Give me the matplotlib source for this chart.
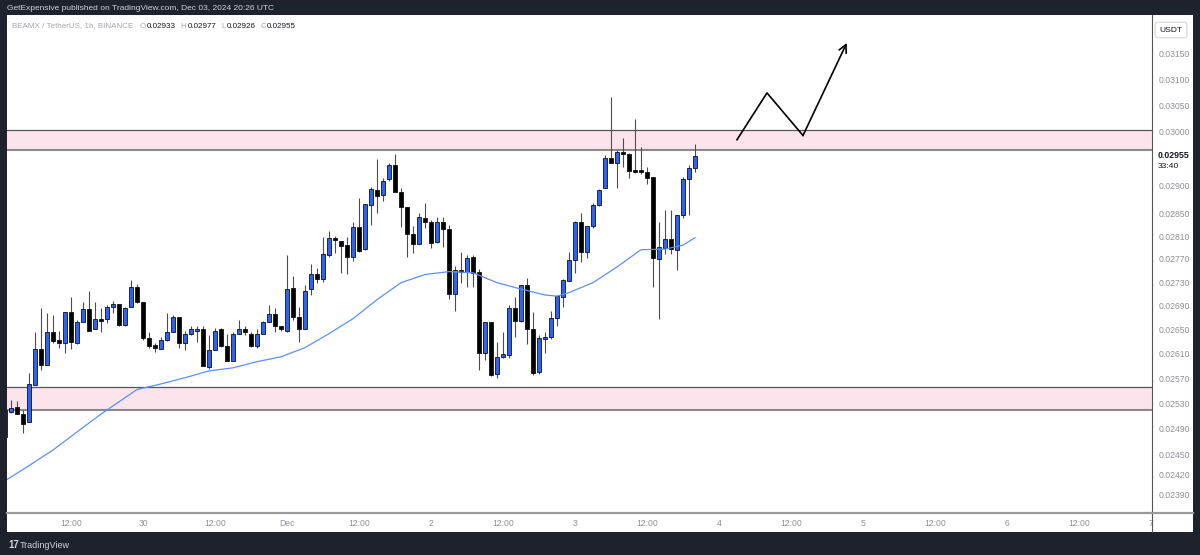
import numpy as np
import matplotlib
matplotlib.use('Agg')
import matplotlib.pyplot as plt
from matplotlib import font_manager
from matplotlib.patches import Rectangle
from matplotlib.lines import Line2D
from matplotlib.ticker import FixedLocator, FixedFormatter, NullLocator

# BEAMX/USDT 1h candles, Nov 29 01:00 .. Dec 03 20:00
opens = [0.02477, 0.02517, 0.02524, 0.02513, 0.02500, 0.02560, 0.02618, 0.02592, 0.02645, 0.02633,
         0.02628, 0.02679, 0.02628, 0.02663, 0.02684, 0.02651, 0.02668, 0.02668, 0.02688, 0.02693,
         0.02658, 0.02688, 0.02722, 0.02696, 0.02636, 0.02624, 0.02618, 0.02633, 0.02646, 0.02671,
         0.02628, 0.02643, 0.02648, 0.02651, 0.02589, 0.02616, 0.02650, 0.02623, 0.02598, 0.02643,
         0.02651, 0.02643, 0.02623, 0.02643, 0.02663, 0.02676, 0.02655, 0.02648, 0.02720, 0.02671,
         0.02651, 0.02718, 0.02744, 0.02736, 0.02777, 0.02807, 0.02802, 0.02794, 0.02774, 0.02825,
         0.02787, 0.02865, 0.02893, 0.02884, 0.02913, 0.02938, 0.02889, 0.02862, 0.02814, 0.02796,
         0.02842, 0.02835, 0.02800, 0.02835, 0.02823, 0.02710, 0.02751, 0.02748, 0.02774, 0.02748,
         0.02611, 0.02663, 0.02577, 0.02605, 0.02608, 0.02686, 0.02664, 0.02725, 0.02651, 0.02581,
         0.02635, 0.02638, 0.02669, 0.02705, 0.02732, 0.02768, 0.02834, 0.02782, 0.02828, 0.02865,
         0.02896, 0.02951, 0.02942, 0.02962, 0.02959, 0.02928, 0.02928, 0.02926, 0.02916, 0.02770,
         0.02789, 0.02805, 0.02786, 0.02848, 0.02913, 0.02933]
highs = [0.02525, 0.02535, 0.02534, 0.02520, 0.02579, 0.02645, 0.02686, 0.02678, 0.02674, 0.02648,
         0.02679, 0.02705, 0.02666, 0.02696, 0.02715, 0.02696, 0.02686, 0.02691, 0.02698, 0.02693,
         0.02688, 0.02734, 0.02727, 0.02696, 0.02645, 0.02628, 0.02638, 0.02678, 0.02674, 0.02671,
         0.02648, 0.02655, 0.02655, 0.02655, 0.02641, 0.02653, 0.02653, 0.02643, 0.02645, 0.02666,
         0.02655, 0.02646, 0.02651, 0.02664, 0.02691, 0.02686, 0.02655, 0.02777, 0.02741, 0.02688,
         0.02725, 0.02762, 0.02755, 0.02808, 0.02819, 0.02810, 0.02802, 0.02808, 0.02834, 0.02878,
         0.02867, 0.02897, 0.02949, 0.02914, 0.02942, 0.02959, 0.02896, 0.02862, 0.02828, 0.02851,
         0.02869, 0.02839, 0.02844, 0.02844, 0.02830, 0.02757, 0.02782, 0.02777, 0.02777, 0.02753,
         0.02663, 0.02663, 0.02630, 0.02645, 0.02691, 0.02705, 0.02725, 0.02737, 0.02679, 0.02641,
         0.02646, 0.02681, 0.02708, 0.02736, 0.02782, 0.02837, 0.02851, 0.02828, 0.02869, 0.02894,
         0.02957, 0.03066, 0.02966, 0.02989, 0.02960, 0.03025, 0.02971, 0.02935, 0.02916, 0.02834,
         0.02857, 0.02857, 0.02848, 0.02916, 0.02938, 0.02977]
lows = [0.02477, 0.02515, 0.02513, 0.02484, 0.02500, 0.02560, 0.02584, 0.02592, 0.02628, 0.02619,
        0.02611, 0.02618, 0.02626, 0.02663, 0.02648, 0.02650, 0.02646, 0.02661, 0.02678, 0.02656,
        0.02655, 0.02688, 0.02694, 0.02633, 0.02619, 0.02613, 0.02618, 0.02631, 0.02645, 0.02619,
        0.02616, 0.02641, 0.02630, 0.02590, 0.02585, 0.02616, 0.02621, 0.02598, 0.02598, 0.02643,
        0.02641, 0.02621, 0.02619, 0.02643, 0.02663, 0.02645, 0.02648, 0.02646, 0.02666, 0.02630,
        0.02651, 0.02708, 0.02729, 0.02730, 0.02774, 0.02780, 0.02746, 0.02744, 0.02767, 0.02782,
        0.02786, 0.02830, 0.02851, 0.02873, 0.02909, 0.02889, 0.02826, 0.02774, 0.02780, 0.02796,
        0.02825, 0.02789, 0.02798, 0.02791, 0.02701, 0.02681, 0.02729, 0.02722, 0.02722, 0.02584,
        0.02600, 0.02573, 0.02571, 0.02603, 0.02603, 0.02638, 0.02663, 0.02626, 0.02576, 0.02577,
        0.02611, 0.02635, 0.02655, 0.02688, 0.02732, 0.02746, 0.02765, 0.02772, 0.02825, 0.02863,
        0.02896, 0.02942, 0.02896, 0.02935, 0.02915, 0.02924, 0.02922, 0.02904, 0.02722, 0.02668,
        0.02779, 0.02779, 0.02750, 0.02842, 0.02848, 0.02926]
closes = [0.02520, 0.02523, 0.02513, 0.02498, 0.02560, 0.02618, 0.02592, 0.02645, 0.02631, 0.02628,
          0.02679, 0.02630, 0.02663, 0.02684, 0.02648, 0.02668, 0.02664, 0.02688, 0.02693, 0.02658,
          0.02686, 0.02722, 0.02696, 0.02636, 0.02623, 0.02619, 0.02633, 0.02646, 0.02671, 0.02628,
          0.02643, 0.02651, 0.02651, 0.02590, 0.02616, 0.02648, 0.02623, 0.02598, 0.02643, 0.02651,
          0.02645, 0.02623, 0.02643, 0.02663, 0.02676, 0.02655, 0.02650, 0.02718, 0.02671, 0.02650,
          0.02715, 0.02743, 0.02736, 0.02779, 0.02807, 0.02803, 0.02793, 0.02774, 0.02825, 0.02784,
          0.02867, 0.02894, 0.02882, 0.02909, 0.02938, 0.02889, 0.02862, 0.02814, 0.02796, 0.02844,
          0.02835, 0.02798, 0.02835, 0.02823, 0.02710, 0.02750, 0.02748, 0.02772, 0.02746, 0.02611,
          0.02663, 0.02576, 0.02605, 0.02610, 0.02686, 0.02664, 0.02725, 0.02651, 0.02579, 0.02635,
          0.02638, 0.02669, 0.02706, 0.02734, 0.02768, 0.02834, 0.02782, 0.02828, 0.02865, 0.02893,
          0.02951, 0.02942, 0.02962, 0.02959, 0.02927, 0.02926, 0.02926, 0.02915, 0.02772, 0.02791,
          0.02805, 0.02787, 0.02848, 0.02913, 0.02933, 0.02955]

# moving average line, read at some candles (hour from Nov 29 00:00)
ma_hours = [1, 5, 9, 13, 17, 19, 23, 27, 31, 35, 39, 43, 47, 51, 55, 59, 63, 67, 71, 75,
            79, 83, 87, 91, 93, 95, 99, 103, 107, 111, 114, 116]
ma_values = [0.02410, 0.02433, 0.02457, 0.02485, 0.02513, 0.02526, 0.02552, 0.02561, 0.02571, 0.02582,
             0.02587, 0.02597, 0.02605, 0.02620, 0.02643, 0.02668, 0.02700, 0.02729, 0.02743, 0.02748,
             0.02746, 0.02729, 0.02718, 0.02708, 0.02706, 0.02712, 0.02729, 0.02756, 0.02786, 0.02787,
             0.02794, 0.02807]

upper_zone = (0.02966, 0.03004)
lower_zone = (0.02520, 0.02556)

# drawn path: up, down to the zone, then arrow up
path_hours = [123, 128, 134]
path_prices = [0.02985, 0.03074, 0.02993]
arrow_tip = (141.3, 0.03172)

price_ticks = [0.0315, 0.031, 0.0305, 0.03, 0.029, 0.0285, 0.0281, 0.0277, 0.0273, 0.0269,
               0.0265, 0.0261, 0.0257, 0.0253, 0.0249, 0.0245, 0.0242, 0.0239]
time_ticks = [12, 24, 36, 48, 60, 72, 84, 96, 108, 120, 132, 144, 156, 168, 180, 192]
time_labels = ['12:00', '30', '12:00', 'Dec', '12:00', '2', '12:00', '3', '12:00', '4',
               '12:00', '5', '12:00', '6', '12:00', '7']

names = {f.name for f in font_manager.fontManager.ttflist}
font = 'Liberation Sans Narrow' if 'Liberation Sans Narrow' in names else 'Liberation Sans'
plt.rcParams['font.family'] = [font, 'DejaVu Sans']

W, H = 1200, 555
dark = '#1e222d'
fig = plt.figure(figsize=(W / 100, H / 100), dpi=100, facecolor=dark)

# white chart card (behind the axes)
fig.patches.append(Rectangle((7 / W, 1 - 532 / H), (1193 - 7) / W, (532 - 15) / H,
                             transform=fig.transFigure, facecolor='white', edgecolor='none', zorder=-5))

ax = fig.add_axes([7 / W, 1 - 513 / H, (1152 - 7) / W, (513 - 15) / H])
ax.set_facecolor('white')

o = np.array(opens)
c = np.array(closes)
hours = np.arange(1, len(opens) + 1)
up = c >= o
colors = np.where(up, '#2962ff', '#000000')

ax.vlines(hours, lows, highs, color='#4d4d4d', lw=0.8, zorder=2)
ax.bar(hours, np.abs(c - o) + 1e-6, bottom=np.minimum(o, c), width=0.62,
       color=colors, edgecolor='#111111', linewidth=0.6, zorder=3)

ax.plot(ma_hours, ma_values, color='#5b8ff9', lw=0.9, zorder=4)

for lo, hi in (upper_zone, lower_zone):
    ax.axhspan(lo, hi, color='#fce4ec', zorder=1, lw=0)
    ax.axhline(hi, color='#555555', lw=0.9, zorder=1.5)
    ax.axhline(lo, color='#8a8a8a', lw=1.5, zorder=1.5)

ax.plot(path_hours, path_prices, color='black', lw=1.2, zorder=5)
ax.annotate('', xy=arrow_tip, xytext=(path_hours[-1], path_prices[-1]),
            arrowprops=dict(arrowstyle='->', color='black', lw=1.2, mutation_scale=14,
                            shrinkA=0, shrinkB=0), zorder=5)

ax.set_yscale('log')
ax.set_ylim(0.023618, 0.03228)
ax.set_xlim(1.333, 192.17)

ax.yaxis.tick_right()
ax.yaxis.set_major_locator(FixedLocator(price_ticks))
ax.yaxis.set_major_formatter(FixedFormatter(['%.5f' % t for t in price_ticks]))
ax.yaxis.set_minor_locator(NullLocator())
ax.tick_params(axis='y', length=0, pad=4.5, labelsize=6.2, labelcolor='#8d9099')

ax.set_xticks(time_ticks)
ax.set_xticklabels(time_labels)
ax.tick_params(axis='x', length=0, pad=4, labelsize=6.2, labelcolor='#8d9099')

for s in ('top', 'left'):
    ax.spines[s].set_visible(False)
ax.spines['right'].set_color('#555555')
ax.spines['right'].set_linewidth(0.8)
ax.spines['bottom'].set_color('#9a9a9a')
ax.spines['bottom'].set_linewidth(1.6)

# price axis border continues through the time axis strip, time axis line through the price axis
fig.add_artist(Line2D([1152 / W, 1152 / W], [1 - 532 / H, 1 - 513 / H], transform=fig.transFigure,
                      color='#555555', lw=0.8))
fig.add_artist(Line2D([1152 / W, 1193 / W], [1 - 513 / H, 1 - 513 / H], transform=fig.transFigure,
                      color='#9a9a9a', lw=1.6))

# current price label
ax.text(1.005, 0.02955, '0.02955', transform=ax.get_yaxis_transform(), fontsize=6.3,
        fontweight='bold', color='#131722', va='center', ha='left')
ax.annotate('33:40', xy=(1.005, 0.02955), xycoords=ax.get_yaxis_transform(),
            xytext=(0, -7.5), textcoords='offset points', fontsize=6.1, color='#131722',
            va='center', ha='left')

fig.text(1171 / W, 1 - 30 / H, 'USDT', fontsize=6.1, color='#131722', ha='center', va='center',
         bbox=dict(boxstyle='round,pad=0.5,rounding_size=0.3', fc='white', ec='#d6d6d6', lw=0.8))

# header
fig.text(7 / W, 1 - 8 / H, 'GetExpensive published on TradingView.com, Dec 03, 2024 20:26 UTC',
         fontsize=6, color='#d1d4dc', va='center', ha='left')

# symbol / OHLC legend, laid out piece by piece
gray = '#a3a6af'
ink = '#131722'
legend_parts = [('BEAMX / TetherUS, 1h, BINANCE', gray, 6), ('O', gray, 1), ('0.02933', ink, 5),
                ('H', gray, 1), ('0.02977', ink, 5), ('L', gray, 1), ('0.02926', ink, 5),
                ('C', gray, 1), ('0.02955', ink, 0)]
renderer = fig.canvas.get_renderer()
x = 12
for s, col, gap in legend_parts:
    t = fig.text(x / W, 1 - 26 / H, s, fontsize=5.8, color=col, va='center', ha='left')
    x += t.get_window_extent(renderer).width + gap

# footer logo
fig.text(8 / W, 1 - 545 / H, '17', fontsize=7, fontweight='bold', color='#d1d4dc', va='center', ha='left')
fig.text(20 / W, 1 - 545 / H, 'TradingView', fontsize=6.5, color='#d1d4dc', va='center', ha='left')

fig.savefig('out.png', dpi=100, facecolor=dark)
